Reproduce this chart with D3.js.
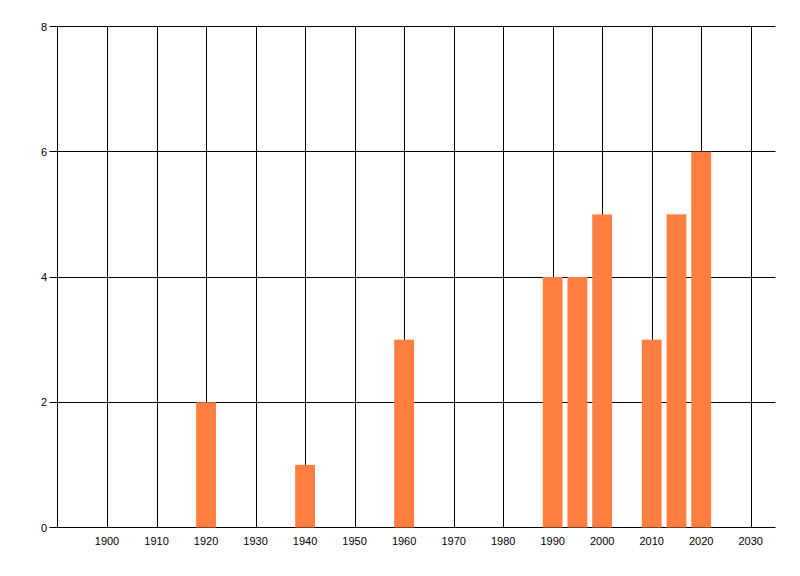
<!DOCTYPE html>
<html>
<head>
<meta charset="utf-8">
<script src="https://cdn.jsdelivr.net/npm/d3@7"></script>
<style>
  body { margin: 0; background: #fff; }
  text { font-family: "Liberation Sans", Arial, sans-serif; font-size: 11px; fill: #000; }
</style>
</head>
<body>
<script>
//Width and height
var w = 800;
var h = 576;

var years = [1920, 1940, 1960, 1990, 1995, 2000, 2010, 2015, 2020];
var counts = [2, 1, 3, 4, 4, 5, 3, 5, 6];
var xTicks = [1900, 1910, 1920, 1930, 1940, 1950, 1960, 1970, 1980, 1990, 2000, 2010, 2020, 2030];
var yTicks = [0, 2, 4, 6, 8];

// plot area (note: "top" is a reserved window global, so use plotTop)
var plotLeft = 57.5, plotRight = 775.5, plotTop = 26.5, plotBottom = 527.5;

var xScale = d3.scaleLinear().domain([1890, 2035]).range([plotLeft, plotRight]);
var yScale = d3.scaleLinear().domain([0, 8]).range([plotBottom, plotTop]);

//Create SVG element
var svg = d3.select("body").append("svg").attr("width", w).attr("height", h);

//Vertical grid lines
svg.append("g")
  .selectAll("line")
  .data(xTicks)
  .enter()
  .append("line")
  .attr("x1", function (d) { return Math.round(xScale(d)) + 0.5; })
  .attr("x2", function (d) { return Math.round(xScale(d)) + 0.5; })
  .attr("y1", plotTop)
  .attr("y2", plotBottom)
  .attr("stroke", "black");

//Horizontal grid lines, with ticks out to the left
svg.append("g")
  .selectAll("line")
  .data(yTicks)
  .enter()
  .append("line")
  .attr("x1", plotLeft - 8)
  .attr("x2", plotRight)
  .attr("y1", function (d) { return Math.round(yScale(d) - 0.5) + 0.5; })
  .attr("y2", function (d) { return Math.round(yScale(d) - 0.5) + 0.5; })
  .attr("stroke", "black");

//Y axis line
svg.append("line")
  .attr("x1", plotLeft).attr("x2", plotLeft)
  .attr("y1", plotTop).attr("y2", plotBottom)
  .attr("stroke", "black");

//Create bars
svg.append("g")
  .selectAll("rect")
  .data(years)
  .enter()
  .append("rect")
  .attr("x", function (d) { return xScale(d - 2); })
  .attr("y", function (d, i) { return yScale(counts[i]); })
  .attr("width", function (d) { return xScale(d + 2) - xScale(d - 2); })
  .attr("height", function (d, i) { return plotBottom - yScale(counts[i]); })
  .attr("fill", "#ff7f40");

//X labels
svg.append("g")
  .selectAll("text")
  .data(xTicks)
  .enter()
  .append("text")
  .text(function (d) { return d; })
  .attr("text-anchor", "middle")
  .attr("x", function (d) { return xScale(d); })
  .attr("y", 545);

//Y labels
svg.append("g")
  .selectAll("text")
  .data(yTicks)
  .enter()
  .append("text")
  .text(function (d) { return d; })
  .attr("text-anchor", "end")
  .attr("x", 47)
  .attr("y", function (d) { return yScale(d) + 4; });
</script>
</body>
</html>
